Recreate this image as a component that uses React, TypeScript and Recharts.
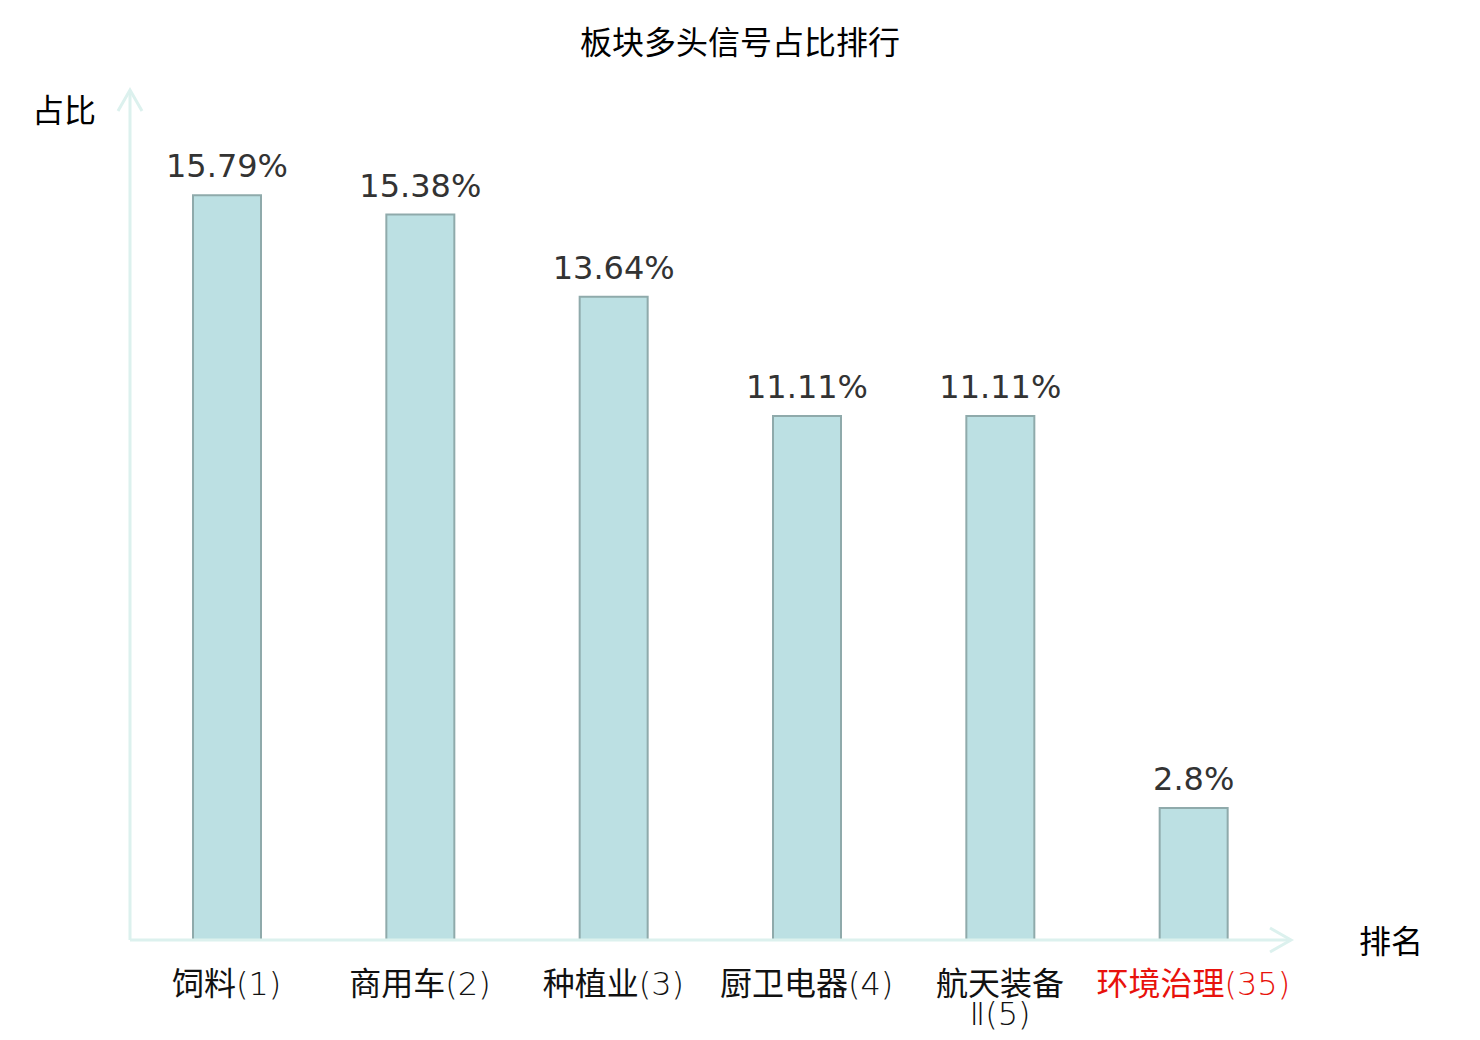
import { BarChart, Bar, XAxis, YAxis, LabelList } from "recharts";

// 板块名称 / 排名 / 多头信号占比(%)
const sectors = ["饲料", "商用车", "种植业", "厨卫电器", "航天装备Ⅱ", "环境治理"];
const ranks = [1, 2, 3, 4, 5, 35];
const shares = [15.79, 15.38, 13.64, 11.11, 11.11, 2.8];
const yDomain = [0, 18];
const currentSector = "环境治理";

const AXIS_COLOR = "#dcf1ee";
const CJK = "'Noto Sans CJK SC'";
const MAX_NAME_CHARS = 4;

const data = sectors.map((name, i) => ({
  name,
  label: `${name}(${ranks[i]})`,
  share: shares[i],
}));

/** 名称超过 4 个字时折行，排名跟在第二行 */
function splitLabel(name: string, rank: string) {
  const chars = Array.from(name);
  if (chars.length <= MAX_NAME_CHARS) return [`${name}${rank}`];
  return [chars.slice(0, MAX_NAME_CHARS).join(""), chars.slice(MAX_NAME_CHARS).join("") + rank];
}

/** 汉字用黑体，数字括号用细体 */
function splitRuns(line: string) {
  const runs: { text: string; cjk: boolean }[] = [];
  for (const ch of Array.from(line)) {
    const cjk = /[\u4e00-\u9fff]/.test(ch);
    const last = runs[runs.length - 1];
    if (last && last.cjk === cjk) last.text += ch;
    else runs.push({ text: ch, cjk });
  }
  return runs;
}

function SectorTick(props: any) {
  const { x, y, payload } = props;
  const value: string = payload.value;
  const idx = value.lastIndexOf("(");
  const lines = splitLabel(value.slice(0, idx), value.slice(idx));
  const color = value.startsWith(currentSector) ? "#e8120c" : "#111";
  return (
    <text x={x} y={y} textAnchor="middle" fill={color} style={{ fontSize: 32 }}>
      {lines.map((l, i) =>
        splitRuns(l).map((r, j) => (
          <tspan
            key={`${i}-${j}`}
            x={j === 0 ? x : undefined}
            dy={j === 0 ? (i === 0 ? 47 : 30) : undefined}
            style={r.cjk ? { fontFamily: CJK } : { fontFamily: "'DejaVu Sans'", fontWeight: 200 }}
          >
            {r.text}
          </tspan>
        ))
      )}
    </text>
  );
}

export default function App() {
  return (
    <div style={{ position: "absolute", left: 0, top: 0, width: 1480, height: 1040, background: "#fff" }}>
      <svg
        width={1480}
        height={1040}
        style={{ position: "absolute", left: 0, top: 0, pointerEvents: "none" }}
      >
        <defs>
          <marker
            id="axisArrow"
            markerUnits="userSpaceOnUse"
            markerWidth={30}
            markerHeight={30}
            viewBox="0 0 30 30"
            refX={23}
            refY={15}
            orient="auto-start-reverse"
          >
            <path d="M3,3 L24,15 L3,27" fill="none" stroke={AXIS_COLOR} strokeWidth={3} />
          </marker>
        </defs>
        <text x={740} y={54} textAnchor="middle" fill="#000" style={{ fontSize: 32, fontFamily: CJK }}>
          板块多头信号占比排行
        </text>
        <text x={32} y={122} fill="#000" style={{ fontSize: 32, fontFamily: CJK }}>
          占比
        </text>
        <text x={1359} y={953} fill="#000" style={{ fontSize: 32, fontFamily: CJK }}>
          排名
        </text>
      </svg>
      <div style={{ position: "absolute", left: 0, top: 0 }}>
        <BarChart
          width={1480}
          height={1040}
          data={data}
          margin={{ top: 91, right: 190, bottom: 40, left: 129 }}
          barCategoryGap={0}
        >
          <XAxis
            dataKey="label"
            interval={0}
            height={60}
            tickLine={false}
            axisLine={{ stroke: AXIS_COLOR, strokeWidth: 3, markerEnd: "url(#axisArrow)" } as any}
            tick={<SectorTick />}
          />
          <YAxis
            width={1}
            domain={yDomain}
            tick={false}
            tickLine={false}
            axisLine={{ stroke: AXIS_COLOR, strokeWidth: 3, markerStart: "url(#axisArrow)" } as any}
          />
          <Bar
            dataKey="share"
            barSize={68}
            fill="#bce0e3"
            stroke="#8faaab"
            strokeWidth={2}
            isAnimationActive={false}
          >
            <LabelList
              dataKey="share"
              position="top"
              offset={18}
              formatter={(v: any) => `${v}%`}
              fill="#333"
              style={{ fontSize: 32, fontFamily: "'DejaVu Sans'" }}
            />
          </Bar>
        </BarChart>
      </div>
    </div>
  );
}
